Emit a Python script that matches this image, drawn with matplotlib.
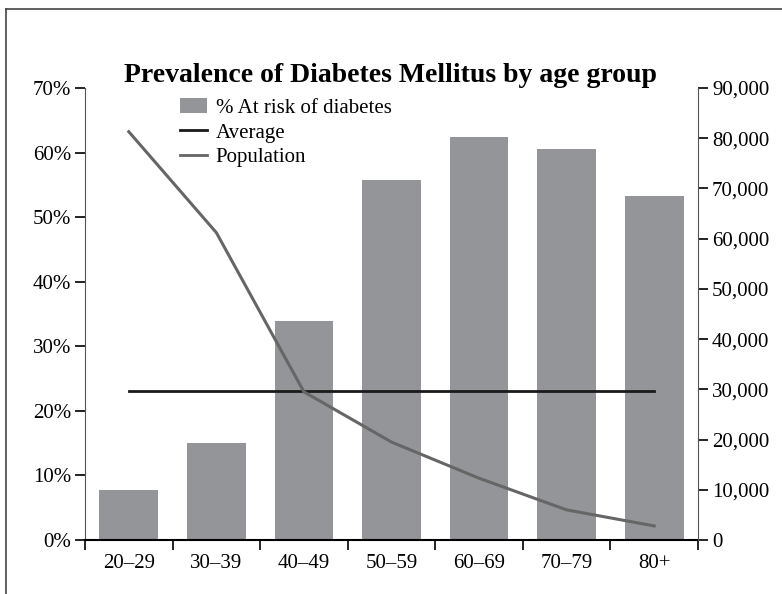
import matplotlib.pyplot as plt
import matplotlib.ticker as mticker
from matplotlib.lines import Line2D
from matplotlib.patches import Patch

plt.rcParams['font.family'] = ['Liberation Serif', 'DejaVu Serif']

# данные по возрастным группам
age_groups = ['20–29', '30–39', '40–49', '50–59', '60–69', '70–79', '80+']
at_risk_pct = [7.7, 15.0, 33.9, 55.8, 62.4, 60.6, 53.3]
population = [81300, 61200, 29500, 19500, 12300, 6000, 2800]
average_pct = 23.1

fig = plt.figure(figsize=(7.82, 5.94), dpi=100)

# рамка вокруг рисунка (видны только левая и верхняя стороны)
fig.add_artist(Line2D([6 / 782, 6 / 782], [0, 1 - 8.5 / 594], color='#444444', lw=1.2))
fig.add_artist(Line2D([6 / 782, 1], [1 - 8.5 / 594, 1 - 8.5 / 594], color='#444444', lw=1.2))

ax = fig.add_axes([85 / 782, 1 - 540 / 594, (698 - 85) / 782, (540 - 88) / 594])
x = list(range(len(age_groups)))

ax.bar(x, at_risk_pct, width=0.67, color='#939598', zorder=1)
ax.plot([x[0], x[-1]], [average_pct, average_pct], color='#1a1a1a', lw=2, zorder=3)

ax.set_xlim(-0.5, len(age_groups) - 0.5)
ax.set_ylim(0, 70)
ax.yaxis.set_major_locator(mticker.MultipleLocator(10))
ax.yaxis.set_major_formatter(mticker.FuncFormatter(lambda v, p: f'{v:.0f}%'))
ax.set_xticks(x)
ax.set_xticklabels(age_groups)
ax.set_xticks([i - 0.5 for i in range(len(age_groups) + 1)], minor=True)
ax.tick_params(axis='x', which='major', length=0, pad=10, labelsize=15)
ax.tick_params(axis='x', which='minor', length=7, width=1.2, direction='out')
ax.tick_params(axis='y', length=7, width=1.2, direction='out', labelsize=15, pad=3)
ax.spines['top'].set_visible(False)
ax.spines['right'].set_visible(False)
ax.spines['left'].set_color('#555555')
ax.spines['bottom'].set_linewidth(1.5)

ax2 = ax.twinx()
ax2.plot(x, population, color='#666666', lw=2.2, zorder=2)
ax2.set_ylim(0, 90000)
ax2.yaxis.set_major_locator(mticker.MultipleLocator(10000))
ax2.yaxis.set_major_formatter(mticker.FuncFormatter(lambda v, p: f'{v:,.0f}'))
ax2.tick_params(axis='y', length=7, width=1.2, direction='out', labelsize=15, pad=3)
ax2.spines['top'].set_visible(False)
ax2.spines['left'].set_visible(False)
ax2.spines['bottom'].set_visible(False)
ax2.spines['right'].set_color('#555555')

handles = [Patch(facecolor='#939598', edgecolor='none'),
           Line2D([], [], color='#1a1a1a', lw=2),
           Line2D([], [], color='#666666', lw=2)]
fig.legend(handles, ['% At risk of diabetes', 'Average', 'Population'],
           loc='upper left', bbox_to_anchor=(172 / 782, 1 - 90 / 594),
           frameon=False, fontsize=15, handlelength=1.3, handletextpad=0.4,
           labelspacing=0.25, borderaxespad=0)

fig.text(390 / 782, 1 - 75 / 594, 'Prevalence of Diabetes Mellitus by age group',
         ha='center', va='center', fontsize=20, fontweight='bold')

plt.savefig('out.png', dpi=100)
